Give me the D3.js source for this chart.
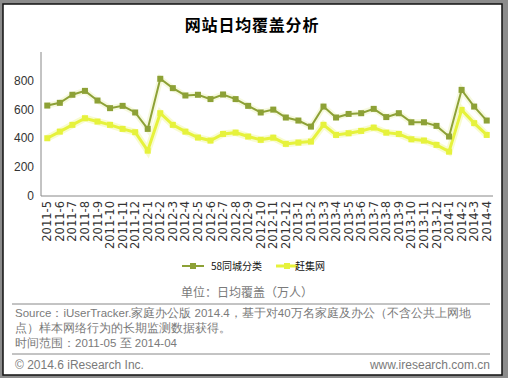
<!DOCTYPE html>
<html>
<head>
<meta charset="utf-8">
<script src="https://cdn.jsdelivr.net/npm/d3@7"></script>
<style>
    body { margin: 0; background: #8c8c8c; }
    svg { display: block; }
    text { font-family: "Liberation Sans", Arial, sans-serif; }
</style>
</head>
<body>
<div id="chart"></div>
<script>
const months = [
    "2011-5", "2011-6", "2011-7", "2011-8", "2011-9", "2011-10", "2011-11", "2011-12",
    "2012-1", "2012-2", "2012-3", "2012-4", "2012-5", "2012-6", "2012-7", "2012-8", "2012-9", "2012-10", "2012-11", "2012-12",
    "2013-1", "2013-2", "2013-3", "2013-4", "2013-5", "2013-6", "2013-7", "2013-8", "2013-9", "2013-10", "2013-11", "2013-12",
    "2014-1", "2014-2", "2014-3", "2014-4"
];
const tc58 = [628, 647, 703, 730, 663, 610, 626, 580, 466, 814, 749, 698, 703, 673, 705, 673, 626, 580, 600, 545,
    524, 482, 621, 545, 570, 575, 605, 548, 575, 512, 512, 487, 413, 737, 621, 524];
const ganji = [401, 447, 494, 540, 517, 494, 466, 443, 315, 575, 494, 447, 406, 385, 431, 440, 413, 390, 405, 362,
    371, 378, 494, 424, 436, 452, 475, 440, 431, 394, 385, 355, 308, 598, 506, 424];
const seriesNames = ["58同城分类", "赶集网"];
const yTicks = [0, 200, 400, 600, 800];

const W = 508, H = 378;
const green = "#8da136", yellow = "#e6f23c";

const svg = d3.select("#chart").append("svg")
    .attr("width", W)
    .attr("height", H);

// frame
svg.append("rect")
    .attr("x", 3).attr("y", 4)
    .attr("width", 499).attr("height", 371)
    .attr("fill", "#fff")
    .attr("stroke", "#111")
    .attr("stroke-width", 1.5);

svg.append("text")
    .attr("x", 252).attr("y", 31)
    .attr("text-anchor", "middle")
    .style("font-family", "'Noto Sans CJK SC', sans-serif")
    .style("font-size", "16px")
    .style("font-weight", "bold")
    .style("letter-spacing", "0.8px")
    .text("网站日均覆盖分析");

const x = d3.scaleBand()
    .domain(months)
    .range([41, 493]);

const y = d3.scaleLinear()
    .domain([0, 1000])
    .range([196, 52]);

const cx = d => x(d) + x.bandwidth() / 2;

// axes
svg.append("line")
    .attr("x1", 41).attr("x2", 41)
    .attr("y1", y(1000)).attr("y2", y(0))
    .attr("stroke", "#888");
svg.append("line")
    .attr("x1", 41).attr("x2", 493)
    .attr("y1", y(0)).attr("y2", y(0))
    .attr("stroke", "#888");

svg.selectAll(".ylab")
    .data(yTicks)
    .enter()
    .append("text")
    .attr("class", "ylab")
    .attr("x", 34)
    .attr("y", d => y(d) + 4)
    .attr("text-anchor", "end")
    .style("font-size", "12px")
    .attr("fill", "#333")
    .text(d => d);

svg.selectAll(".xlab")
    .data(months)
    .enter()
    .append("text")
    .attr("class", "xlab")
    .attr("transform", d => `translate(${cx(d) + 4},${y(0) + 5}) rotate(-90)`)
    .attr("text-anchor", "end")
    .style("font-family", "'DejaVu Sans', sans-serif")
    .style("font-size", "11.5px")
    .attr("fill", "#333")
    .text(d => d);

// lines
const line = d3.line()
    .x((d, i) => cx(months[i]))
    .y(d => y(d));

svg.append("path")
    .datum(ganji)
    .attr("d", line)
    .attr("fill", "none")
    .attr("stroke", "#f4f9b0")
    .attr("stroke-width", 7)
    .attr("stroke-opacity", 0.6);
svg.append("path")
    .datum(ganji)
    .attr("d", line)
    .attr("fill", "none")
    .attr("stroke", yellow)
    .attr("stroke-width", 3);
svg.selectAll(".gj")
    .data(ganji)
    .enter()
    .append("rect")
    .attr("class", "gj")
    .attr("x", (d, i) => cx(months[i]) - 3)
    .attr("y", d => y(d) - 3)
    .attr("width", 6).attr("height", 6)
    .attr("fill", yellow);

svg.append("path")
    .datum(tc58)
    .attr("d", line)
    .attr("fill", "none")
    .attr("stroke", "#f0f5c8")
    .attr("stroke-width", 6)
    .attr("stroke-opacity", 0.6);
svg.append("path")
    .datum(tc58)
    .attr("d", line)
    .attr("fill", "none")
    .attr("stroke", green)
    .attr("stroke-width", 2);
svg.selectAll(".tc")
    .data(tc58)
    .enter()
    .append("rect")
    .attr("class", "tc")
    .attr("x", (d, i) => cx(months[i]) - 3)
    .attr("y", d => y(d) - 3)
    .attr("width", 6).attr("height", 6)
    .attr("fill", green);

// legend
const legend = [
    { name: seriesNames[0], color: green, x: 182 },
    { name: seriesNames[1], color: yellow, x: 276 }
];
const lg = svg.selectAll(".lg")
    .data(legend)
    .enter()
    .append("g")
    .attr("transform", d => `translate(${d.x},266)`);
lg.append("line")
    .attr("x1", 0).attr("x2", 22)
    .attr("stroke", d => d.color)
    .attr("stroke-width", d => d.color === yellow ? 3 : 2);
lg.append("rect")
    .attr("x", 8).attr("y", -3)
    .attr("width", 6).attr("height", 6)
    .attr("fill", d => d.color);
lg.append("text")
    .attr("x", d => d.color === yellow ? 19 : 29)
    .attr("y", 4)
    .style("font-family", "'Noto Sans CJK SC', sans-serif")
    .style("font-size", "10px")
    .attr("fill", "#111")
    .text(d => d.name);

// footer
const gray = "#7a7a7a";
svg.append("text")
    .attr("x", 247).attr("y", 297)
    .attr("text-anchor", "middle")
    .style("font-family", "'Noto Sans CJK SC', sans-serif")
    .style("font-size", "12px")
    .attr("fill", gray)
    .text("单位：日均覆盖（万人）");

svg.append("line")
    .attr("x1", 12).attr("x2", 490)
    .attr("y1", 304).attr("y2", 304)
    .attr("stroke", "#888");
svg.append("line")
    .attr("x1", 12).attr("x2", 490)
    .attr("y1", 354).attr("y2", 354)
    .attr("stroke", "#888");

const src = svg.append("text")
    .style("font-size", "11.5px")
    .attr("fill", gray);
src.append("tspan").attr("x", 15).attr("y", 317)
    .text("Source：iUserTracker.家庭办公版 2014.4，基于对40万名家庭及办公（不含公共上网地");
src.append("tspan").attr("x", 15).attr("y", 332)
    .text("点）样本网络行为的长期监测数据获得。");

svg.append("text")
    .attr("x", 15).attr("y", 347)
    .style("font-size", "11.5px")
    .attr("fill", gray)
    .text("时间范围：2011-05 至 2014-04");

svg.append("text")
    .attr("x", 15).attr("y", 369)
    .style("font-size", "12px")
    .attr("fill", gray)
    .text("© 2014.6 iResearch Inc.");
svg.append("text")
    .attr("x", 490).attr("y", 369)
    .attr("text-anchor", "end")
    .style("font-size", "12px")
    .attr("fill", gray)
    .text("www.iresearch.com.cn");
</script>
</body>
</html>
